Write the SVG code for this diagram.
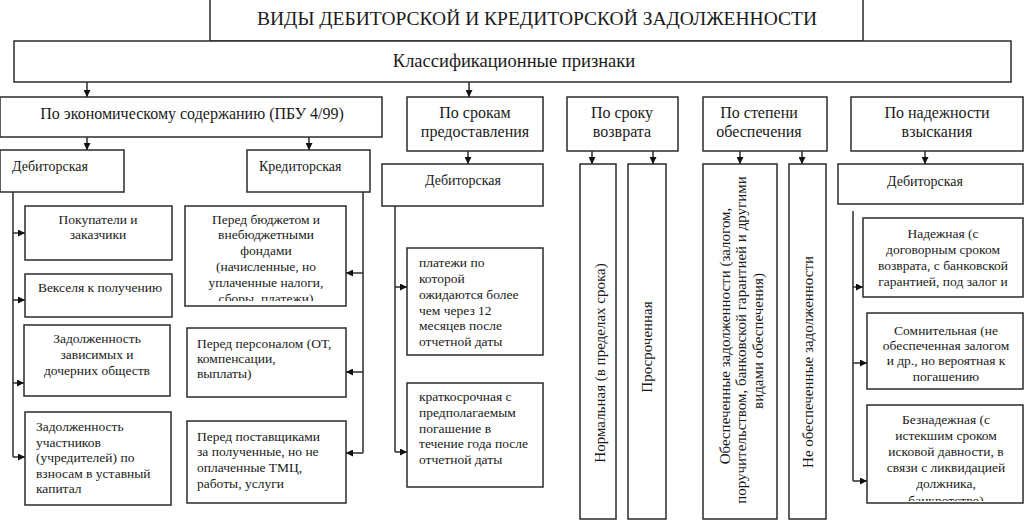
<svg xmlns="http://www.w3.org/2000/svg" width="1028" height="520" viewBox="0 0 1028 520" font-family="'Liberation Serif', 'Times New Roman', serif">
<style>
.b{fill:#fff;stroke:#2b2b2b;stroke-width:1.5}
.t{font-family:'Liberation Serif','Times New Roman',serif;fill:#1a1a1a}
.s{font-size:13.5px}
.m{font-size:14px}
.l2{font-size:16px}
.v{font-size:15px}
.c{text-anchor:middle}
.w{stroke:#2b2b2b;stroke-width:1.5;fill:none}
</style>
<defs>
<marker id="ar" markerUnits="userSpaceOnUse" markerWidth="7" markerHeight="7" refX="7" refY="3.5" orient="auto">
<path d="M0,0 L7,3.5 L0,7 Z" fill="#111"/>
</marker>
<clipPath id="c1"><rect x="185" y="206" width="161" height="95"/></clipPath>
<clipPath id="c2"><rect x="867" y="405" width="156" height="96"/></clipPath>
</defs>
<rect width="1028" height="520" fill="#fff"/>

<g id="connectors">
<path class="w" d="M87,82 V97" marker-end="url(#ar)"/>
<path class="w" d="M469,82 V97" marker-end="url(#ar)"/>
<path class="w" d="M87,137 V150" marker-end="url(#ar)"/>
<path class="w" d="M309,137 V150" marker-end="url(#ar)"/>
<path class="w" d="M468,151 V164" marker-end="url(#ar)"/>
<path class="w" d="M592,151 V164" marker-end="url(#ar)"/>
<path class="w" d="M653,151 V164" marker-end="url(#ar)"/>
<path class="w" d="M740,151 V164" marker-end="url(#ar)"/>
<path class="w" d="M802,151 V164" marker-end="url(#ar)"/>
<path class="w" d="M925,151 V164" marker-end="url(#ar)"/>
<path class="w" d="M13,192 V457"/>
<path class="w" d="M13,233 H25" marker-end="url(#ar)"/>
<path class="w" d="M13,300 H25" marker-end="url(#ar)"/>
<path class="w" d="M13,383 H24" marker-end="url(#ar)"/>
<path class="w" d="M13,457 H25" marker-end="url(#ar)"/>
<path class="w" d="M363,192 V453"/>
<path class="w" d="M363,273 H346" marker-end="url(#ar)"/>
<path class="w" d="M363,372 H346" marker-end="url(#ar)"/>
<path class="w" d="M363,453 H346" marker-end="url(#ar)"/>
<path class="w" d="M395,206 V452"/>
<path class="w" d="M395,287 H407" marker-end="url(#ar)"/>
<path class="w" d="M395,452 H407" marker-end="url(#ar)"/>
<path class="w" d="M853,211 V481"/>
<path class="w" d="M853,287 H863" marker-end="url(#ar)"/>
<path class="w" d="M853,363 H867" marker-end="url(#ar)"/>
<path class="w" d="M853,481 H867" marker-end="url(#ar)"/>
</g>

<g id="title"><rect class="b" x="210" y="-1" width="653" height="42"/>
<text class="t c" x="537" y="25" style="font-size:19.5px">ВИДЫ ДЕБИТОРСКОЙ И КРЕДИТОРСКОЙ ЗАДОЛЖЕННОСТИ</text></g>

<g id="classif"><rect class="b" x="14" y="41" width="997" height="41"/>
<text class="t c" x="514" y="67" style="font-size:18.5px">Классификационные признаки</text></g>

<g id="econ"><rect class="b" x="0" y="97" width="382" height="40"/>
<text class="t l2 c" x="192" y="119">По экономическому содержанию (ПБУ 4/99)</text></g>

<g id="srokam"><rect class="b" x="407" y="97" width="136" height="54"/>
<text class="t l2 c" x="475" y="118">По срокам</text>
<text class="t l2 c" x="475" y="137">предоставления</text></g>

<g id="vozvrata"><rect class="b" x="567" y="97" width="111" height="54"/>
<text class="t l2 c" x="622" y="118">По сроку</text>
<text class="t l2 c" x="622" y="137">возврата</text></g>

<g id="obesp"><rect class="b" x="703" y="97" width="124" height="54"/>
<text class="t l2 c" x="759" y="118">По степени</text>
<text class="t l2 c" x="759" y="137">обеспечения</text></g>

<g id="nadezh"><rect class="b" x="851" y="97" width="172" height="54"/>
<text class="t l2 c" x="937" y="118">По надежности</text>
<text class="t l2 c" x="937" y="137">взыскания</text></g>

<g id="deb1"><rect class="b" x="0" y="150" width="124" height="42"/>
<text class="t m" x="12" y="171">Дебиторская</text></g>

<g id="kred1"><rect class="b" x="247" y="150" width="123" height="42"/>
<text class="t m" x="259" y="171">Кредиторская</text></g>

<g id="deb2"><rect class="b" x="382" y="164" width="161" height="42"/>
<text class="t m c" x="463" y="185">Дебиторская</text></g>

<g id="deb5"><rect class="b" x="838" y="164" width="185" height="40"/>
<text class="t m c" x="925" y="186">Дебиторская</text></g>

<g id="pokup"><rect class="b" x="25" y="206" width="147" height="54"/>
<text class="t s c" x="98" y="224">Покупатели и</text>
<text class="t s c" x="98" y="239">заказчики</text></g>

<g id="veksel"><rect class="b" x="25" y="274" width="147" height="43"/>
<text class="t s c" x="100" y="292">Векселя к получению</text></g>

<g id="zavis"><rect class="b" x="24" y="325" width="146" height="71"/>
<text class="t s c" x="97" y="343">Задолженность</text>
<text class="t s c" x="97" y="359">зависимых и</text>
<text class="t s c" x="97" y="375">дочерних обществ</text></g>

<g id="uchast"><rect class="b" x="25" y="412" width="146" height="93"/>
<text class="t s" x="36" y="431">Задолженность</text>
<text class="t s" x="36" y="446.5">участников</text>
<text class="t s" x="36" y="462">(учредителей) по</text>
<text class="t s" x="36" y="477.5">взносам в уставный</text>
<text class="t s" x="36" y="493">капитал</text></g>

<g id="budget"><rect class="b" x="185" y="206" width="161" height="100"/>
<g clip-path="url(#c1)">
<text class="t s c" x="266" y="224">Перед бюджетом и</text>
<text class="t s c" x="266" y="239">внебюджетными</text>
<text class="t s c" x="266" y="255">фондами</text>
<text class="t s c" x="266" y="271">(начисленные, но</text>
<text class="t s c" x="266" y="287">уплаченные налоги,</text>
<text class="t s c" x="266" y="303">сборы, платежи)</text>
</g></g>

<g id="personal"><rect class="b" x="187" y="328" width="159" height="69"/>
<text class="t s" x="197" y="348">Перед персоналом (ОТ,</text>
<text class="t s" x="197" y="363">компенсации,</text>
<text class="t s" x="197" y="378">выплаты)</text></g>

<g id="postav"><rect class="b" x="187" y="421" width="159" height="82"/>
<text class="t s" x="197" y="441">Перед поставщиками</text>
<text class="t s" x="197" y="456">за полученные, но не</text>
<text class="t s" x="197" y="472">оплаченные ТМЦ,</text>
<text class="t s" x="197" y="488">работы, услуги</text></g>

<g id="dolgo"><rect class="b" x="407" y="248" width="136" height="107"/>
<text class="t s" x="419" y="267">платежи по</text>
<text class="t s" x="419" y="283">которой</text>
<text class="t s" x="419" y="299">ожидаются более</text>
<text class="t s" x="419" y="315">чем через 12</text>
<text class="t s" x="419" y="330">месяцев после</text>
<text class="t s" x="419" y="346">отчетной даты</text></g>

<g id="kratko"><rect class="b" x="407" y="383" width="136" height="104"/>
<text class="t s" x="419" y="401">краткосрочная с</text>
<text class="t s" x="419" y="417">предполагаемым</text>
<text class="t s" x="419" y="433">погашение в</text>
<text class="t s" x="419" y="448">течение года после</text>
<text class="t s" x="419" y="464">отчетной даты</text></g>

<g id="normal"><rect class="b" x="580" y="164" width="36" height="355"/>
<text class="t v c" transform="translate(604.5,363) rotate(-90)">Нормальная (в пределах срока)</text></g>

<g id="prosroch"><rect class="b" x="628" y="164" width="38" height="355"/>
<text class="t v c" transform="translate(651.5,347) rotate(-90)">Просроченная</text></g>

<g id="obespech"><rect class="b" x="703" y="164" width="74" height="355"/>
<text class="t v c" transform="translate(729.5,336) rotate(-90)">Обеспеченные задолженности (залогом,</text>
<text class="t v c" transform="translate(746,340) rotate(-90)">поручительством, банковской гарантией и другими</text>
<text class="t v c" transform="translate(762.5,341) rotate(-90)">видами обеспечения)</text></g>

<g id="neobesp"><rect class="b" x="789" y="164" width="37" height="355"/>
<text class="t v c" transform="translate(812.5,362) rotate(-90)">Не обеспеченные задолженности</text></g>

<g id="nadezhnaya"><rect class="b" x="863" y="218" width="160" height="79"/>
<text class="t s c" x="943" y="238">Надежная (с</text>
<text class="t s c" x="943" y="254">договорным сроком</text>
<text class="t s c" x="943" y="270">возврата, с банковской</text>
<text class="t s c" x="943" y="286">гарантией, под залог и</text></g>

<g id="somnit"><rect class="b" x="867" y="313" width="156" height="76"/>
<text class="t s c" x="946" y="335">Сомнительная (не</text>
<text class="t s c" x="946" y="350">обеспеченная залогом</text>
<text class="t s c" x="946" y="365">и др., но вероятная к</text>
<text class="t s c" x="946" y="381">погашению</text></g>

<g id="beznad"><rect class="b" x="867" y="405" width="156" height="98"/>
<g clip-path="url(#c2)">
<text class="t s c" x="946" y="424">Безнадежная (с</text>
<text class="t s c" x="946" y="440">истекшим сроком</text>
<text class="t s c" x="946" y="456">исковой давности, в</text>
<text class="t s c" x="946" y="472">связи с ликвидацией</text>
<text class="t s c" x="946" y="488">должника,</text>
<text class="t s c" x="946" y="505">банкротство)</text>
</g></g>
</svg>
